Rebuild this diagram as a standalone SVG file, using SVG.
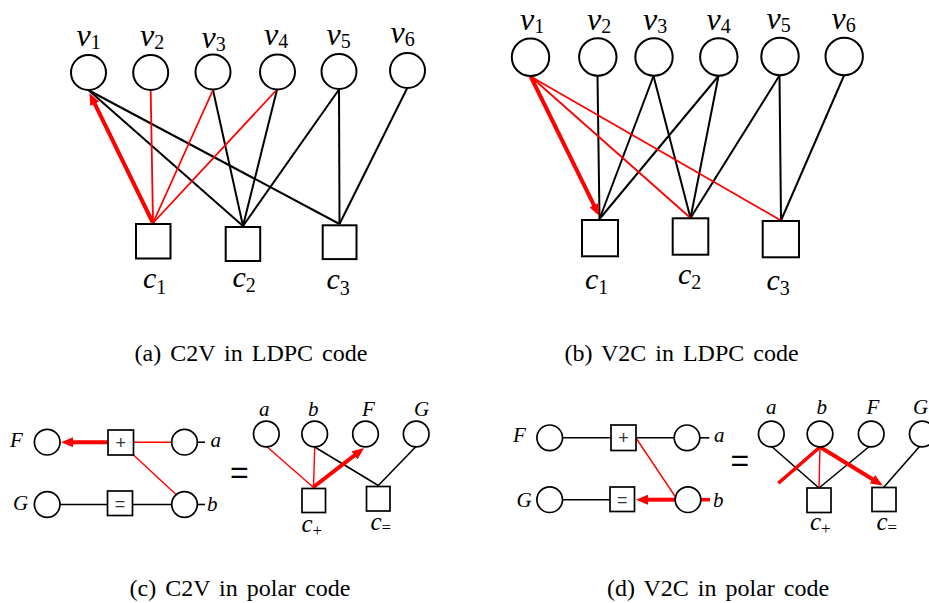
<svg xmlns="http://www.w3.org/2000/svg" width="929" height="603" viewBox="0 0 929 603">
<defs>
<style>
.n{fill:#fff;stroke:#000;stroke-width:2}
.p{fill:#fff;stroke:#000;stroke-width:1.7}
.k{stroke:#000;stroke-width:2;fill:none}
.kp{stroke:#000;stroke-width:1.6;fill:none}
.r{stroke:#f00;stroke-width:1.8;fill:none}
.rp{stroke:#f00;stroke-width:1.4;fill:none}
.R{stroke:#f00;stroke-width:4;fill:none;marker-end:url(#ah)}
.Rn{stroke:#f00;stroke-width:3.5;fill:none}
.v{font-family:"Liberation Serif","Times New Roman",serif;font-style:italic;font-size:32px;fill:#000}
.c{font-family:"Liberation Serif","Times New Roman",serif;font-style:italic;font-size:30px;fill:#000}
.pl{font-family:"Liberation Serif","Times New Roman",serif;font-style:italic;font-size:21px;fill:#000}
.pc{font-family:"Liberation Serif","Times New Roman",serif;font-style:italic;font-size:25px;fill:#000}
.s{font-style:normal;font-size:20px}
.ss{font-style:normal;font-size:17px}
.box{font-family:"Liberation Sans",Arial,sans-serif;font-size:18px;fill:#333;text-anchor:middle}
.eq{font-family:"Liberation Sans",Arial,sans-serif;font-size:32px;fill:#000}
.cap{font-family:"Liberation Serif","Times New Roman",serif;font-size:24px;word-spacing:3px;fill:#000;text-anchor:middle}
</style>
<marker id="ah" markerUnits="userSpaceOnUse" markerWidth="12" markerHeight="10" refX="4" refY="5" orient="auto">
<path d="M0,0 L12,5 L0,10 z" fill="#f00"/>
</marker>
</defs>
<rect width="929" height="603" fill="#fff"/>

<!-- connectors -->
<g id="connectors">
 <!-- panel a -->
 <line class="k" x1="89" y1="90.5" x2="243" y2="226"/>
 <line class="k" x1="89" y1="90.5" x2="339.5" y2="224"/>
 <line class="k" x1="213" y1="90" x2="243" y2="226"/>
 <line class="k" x1="277" y1="89.5" x2="243" y2="226"/>
 <line class="k" x1="339" y1="89.5" x2="243" y2="226"/>
 <line class="k" x1="339" y1="89.5" x2="339.5" y2="224"/>
 <line class="k" x1="407" y1="88.5" x2="339.5" y2="224"/>
 <line class="r" x1="153" y1="223" x2="150.7" y2="90.5"/>
 <line class="r" x1="153" y1="223" x2="213" y2="90"/>
 <line class="r" x1="153" y1="223" x2="277" y2="89.5"/>
 <line class="R" x1="153" y1="223" x2="93" y2="100.2"/>
 <!-- panel b -->
 <line class="k" x1="597.5" y1="76" x2="599.5" y2="219"/>
 <line class="k" x1="653.5" y1="76" x2="599.5" y2="219"/>
 <line class="k" x1="653.5" y1="76" x2="690.5" y2="218"/>
 <line class="k" x1="718.5" y1="76" x2="599.5" y2="219"/>
 <line class="k" x1="718.5" y1="76" x2="690.5" y2="218"/>
 <line class="k" x1="779.5" y1="75.5" x2="690.5" y2="218"/>
 <line class="k" x1="779.5" y1="75.5" x2="781" y2="220.5"/>
 <line class="k" x1="844" y1="75.5" x2="781" y2="220.5"/>
 <line class="r" x1="530.7" y1="76.5" x2="690.5" y2="218"/>
 <line class="r" x1="530.7" y1="76.5" x2="781" y2="220.5"/>
 <line class="R" x1="530.7" y1="76.5" x2="595.8" y2="208.8"/>
 <!-- panel c left -->
 <line class="kp" x1="60" y1="504.5" x2="107.5" y2="504.5"/>
 <line class="kp" x1="133" y1="504.5" x2="171.7" y2="504.5"/>
 <line class="kp" x1="197.3" y1="442.2" x2="205" y2="442.2"/>
 <line class="kp" x1="197.3" y1="504.5" x2="205" y2="504.5"/>
 <line class="rp" x1="134" y1="442.2" x2="171.7" y2="442.2"/>
 <line class="rp" x1="133.5" y1="455" x2="176" y2="494.5"/>
 <line class="R" x1="107.5" y1="442.2" x2="69" y2="442.2"/>
 <!-- panel c right -->
 <line class="kp" x1="314.7" y1="447" x2="378.3" y2="485.5"/>
 <line class="kp" x1="416" y1="446.5" x2="378.3" y2="485.5"/>
 <line class="rp" x1="266.7" y1="446.5" x2="313.5" y2="487.5"/>
 <line class="rp" x1="314.7" y1="447" x2="313.5" y2="487.5"/>
 <line class="R" x1="313.5" y1="487" x2="357.7" y2="452.9"/>
 <!-- panel d left -->
 <line class="kp" x1="562.5" y1="437.8" x2="611" y2="437.8"/>
 <line class="kp" x1="636" y1="437.8" x2="674.2" y2="437.8"/>
 <line class="kp" x1="699.8" y1="437.8" x2="709.3" y2="437.8"/>
 <line class="kp" x1="562.5" y1="499.7" x2="610" y2="499.7"/>
 <line class="rp" x1="636" y1="438" x2="675.5" y2="497"/>
 <line class="R" x1="675" y1="499.7" x2="644" y2="499.7"/>
 <line class="Rn" x1="700.8" y1="499.7" x2="710" y2="499.7"/>
 <!-- panel d right -->
 <line class="kp" x1="771.7" y1="446.5" x2="819" y2="488"/>
 <line class="kp" x1="869.3" y1="446.5" x2="819" y2="488"/>
 <line class="kp" x1="920" y1="446" x2="883.5" y2="487.5"/>
 <line class="rp" x1="820" y1="447" x2="819" y2="488"/>
 <line class="Rn" x1="820" y1="447" x2="778.3" y2="483.3"/>
 <line class="R" x1="820" y1="447" x2="875.9" y2="481.3"/>
</g>

<!-- panel a nodes -->
<g id="a-v1"><circle class="n" cx="88.5" cy="72.5" r="17.5"/><text class="v" x="76.5" y="46">v<tspan class="s" dy="3">1</tspan></text></g>
<g id="a-v2"><circle class="n" cx="150.7" cy="72.5" r="17.5"/><text class="v" x="140" y="46">v<tspan class="s" dy="3">2</tspan></text></g>
<g id="a-v3"><circle class="n" cx="213" cy="72" r="17.5"/><text class="v" x="201.5" y="47.5">v<tspan class="s" dy="3">3</tspan></text></g>
<g id="a-v4"><circle class="n" cx="277.5" cy="72" r="17.5"/><text class="v" x="264" y="45">v<tspan class="s" dy="3">4</tspan></text></g>
<g id="a-v5"><circle class="n" cx="339" cy="71.5" r="17.5"/><text class="v" x="326.5" y="44.5">v<tspan class="s" dy="3">5</tspan></text></g>
<g id="a-v6"><circle class="n" cx="407.5" cy="70.5" r="17.5"/><text class="v" x="390.5" y="43">v<tspan class="s" dy="3">6</tspan></text></g>
<g id="a-c1"><rect class="n" x="136" y="224" width="34.5" height="34.5"/><text class="c" x="143" y="288">c<tspan class="s" dy="6">1</tspan></text></g>
<g id="a-c2"><rect class="n" x="225.7" y="227" width="34.5" height="34"/><text class="c" x="232.5" y="286.5">c<tspan class="s" dy="5">2</tspan></text></g>
<g id="a-c3"><rect class="n" x="322.7" y="225.3" width="33.8" height="33.8"/><text class="c" x="326.5" y="288.5">c<tspan class="s" dy="6">3</tspan></text></g>

<!-- panel b nodes -->
<g id="b-v1"><circle class="n" cx="530.5" cy="57.3" r="18.7"/><text class="v" x="520" y="30">v<tspan class="s" dy="3">1</tspan></text></g>
<g id="b-v2"><circle class="n" cx="597.8" cy="57" r="18.7"/><text class="v" x="587" y="30">v<tspan class="s" dy="3">2</tspan></text></g>
<g id="b-v3"><circle class="n" cx="654" cy="57" r="18.7"/><text class="v" x="643" y="30">v<tspan class="s" dy="3">3</tspan></text></g>
<g id="b-v4"><circle class="n" cx="718.8" cy="57" r="18.7"/><text class="v" x="706.5" y="29.5">v<tspan class="s" dy="3">4</tspan></text></g>
<g id="b-v5"><circle class="n" cx="780" cy="56.5" r="18.7"/><text class="v" x="766.5" y="29">v<tspan class="s" dy="3">5</tspan></text></g>
<g id="b-v6"><circle class="n" cx="844.2" cy="56.5" r="18.7"/><text class="v" x="831.5" y="29">v<tspan class="s" dy="3">6</tspan></text></g>
<g id="b-c1"><rect class="n" x="582" y="220" width="36" height="36.3"/><text class="c" x="585" y="288.5">c<tspan class="s" dy="5">1</tspan></text></g>
<g id="b-c2"><rect class="n" x="672.7" y="218.3" width="35.6" height="36.4"/><text class="c" x="678" y="283.5">c<tspan class="s" dy="5">2</tspan></text></g>
<g id="b-c3"><rect class="n" x="762.7" y="221" width="36.3" height="36.3"/><text class="c" x="766.5" y="290">c<tspan class="s" dy="5">3</tspan></text></g>

<!-- panel c left nodes -->
<g id="c-F"><circle class="p" cx="47.2" cy="442.2" r="12.8"/><text class="pl" x="10" y="447">F</text></g>
<g id="c-G"><circle class="p" cx="47.2" cy="504.5" r="12.8"/><text class="pl" x="13" y="510">G</text></g>
<g id="c-plus"><rect class="p" x="108" y="430" width="25.5" height="25"/><text class="box" x="120.7" y="448.5">+</text></g>
<g id="c-eqbox"><rect class="p" x="107.5" y="491" width="25" height="24.5"/><text class="box" x="120" y="509.5">=</text></g>
<g id="c-a"><circle class="p" cx="184.5" cy="442.2" r="12.8"/><text class="pl" x="210.5" y="447.3">a</text></g>
<g id="c-b"><circle class="p" cx="184.5" cy="504.5" r="12.8"/><text class="pl" x="207" y="511">b</text></g>
<text id="c-equals" class="eq" x="230" y="483">=</text>
<!-- panel c right nodes -->
<g id="c-a2"><circle class="p" cx="266.3" cy="434" r="12.8"/><text class="pl" x="259" y="415.5">a</text></g>
<g id="c-b2"><circle class="p" cx="314.7" cy="434" r="12.8"/><text class="pl" x="308" y="415.5">b</text></g>
<g id="c-F2"><circle class="p" cx="365.5" cy="434" r="12.8"/><text class="pl" x="362" y="415.5">F</text></g>
<g id="c-G2"><circle class="p" cx="416.2" cy="434" r="12.8"/><text class="pl" x="414" y="415.5">G</text></g>
<g id="c-cplus"><rect class="p" x="302" y="488.5" width="23.5" height="24"/><text class="pc" x="301.5" y="531.5">c<tspan class="ss" dy="4">+</tspan></text></g>
<g id="c-ceq"><rect class="p" x="366.5" y="486.5" width="23.5" height="24.5"/><text class="pc" x="370.5" y="530">c<tspan class="ss" dy="3">=</tspan></text></g>

<!-- panel d left nodes -->
<g id="d-F"><circle class="p" cx="549.7" cy="437.8" r="12.8"/><text class="pl" x="513" y="442">F</text></g>
<g id="d-G"><circle class="p" cx="549.7" cy="499.7" r="12.8"/><text class="pl" x="516.5" y="506.5">G</text></g>
<g id="d-plus"><rect class="p" x="611" y="425" width="25" height="25.5"/><text class="box" x="623.5" y="444">+</text></g>
<g id="d-eqbox"><rect class="p" x="610" y="487" width="24.5" height="24.5"/><text class="box" x="622.3" y="505.5">=</text></g>
<g id="d-a"><circle class="p" cx="687" cy="437.8" r="12.8"/><text class="pl" x="714" y="442.3">a</text></g>
<g id="d-b"><circle class="p" cx="688" cy="499.7" r="12.8"/><text class="pl" x="713" y="506.7">b</text></g>
<text id="d-equals" class="eq" x="730.5" y="471">=</text>
<!-- panel d right nodes -->
<g id="d-a2"><circle class="p" cx="771.3" cy="434" r="12.8"/><text class="pl" x="766" y="414">a</text></g>
<g id="d-b2"><circle class="p" cx="820" cy="434" r="12.8"/><text class="pl" x="816.5" y="414">b</text></g>
<g id="d-F2"><circle class="p" cx="871.2" cy="434" r="12.8"/><text class="pl" x="866.5" y="414">F</text></g>
<g id="d-G2"><circle class="p" cx="922.3" cy="434" r="12.8"/><text class="pl" x="913" y="414">G</text></g>
<g id="d-cplus"><rect class="p" x="807" y="488" width="24" height="24.5"/><text class="pc" x="810" y="530">c<tspan class="ss" dy="4">+</tspan></text></g>
<g id="d-ceq"><rect class="p" x="872" y="487.5" width="24" height="24"/><text class="pc" x="876.5" y="530">c<tspan class="ss" dy="3">=</tspan></text></g>

<!-- captions -->
<text class="cap" x="251" y="361">(a) C2V in LDPC code</text>
<text class="cap" x="681.5" y="361">(b) V2C in LDPC code</text>
<text class="cap" x="240" y="596">(c) C2V in polar code</text>
<text class="cap" x="718" y="596">(d) V2C in polar code</text>
</svg>
